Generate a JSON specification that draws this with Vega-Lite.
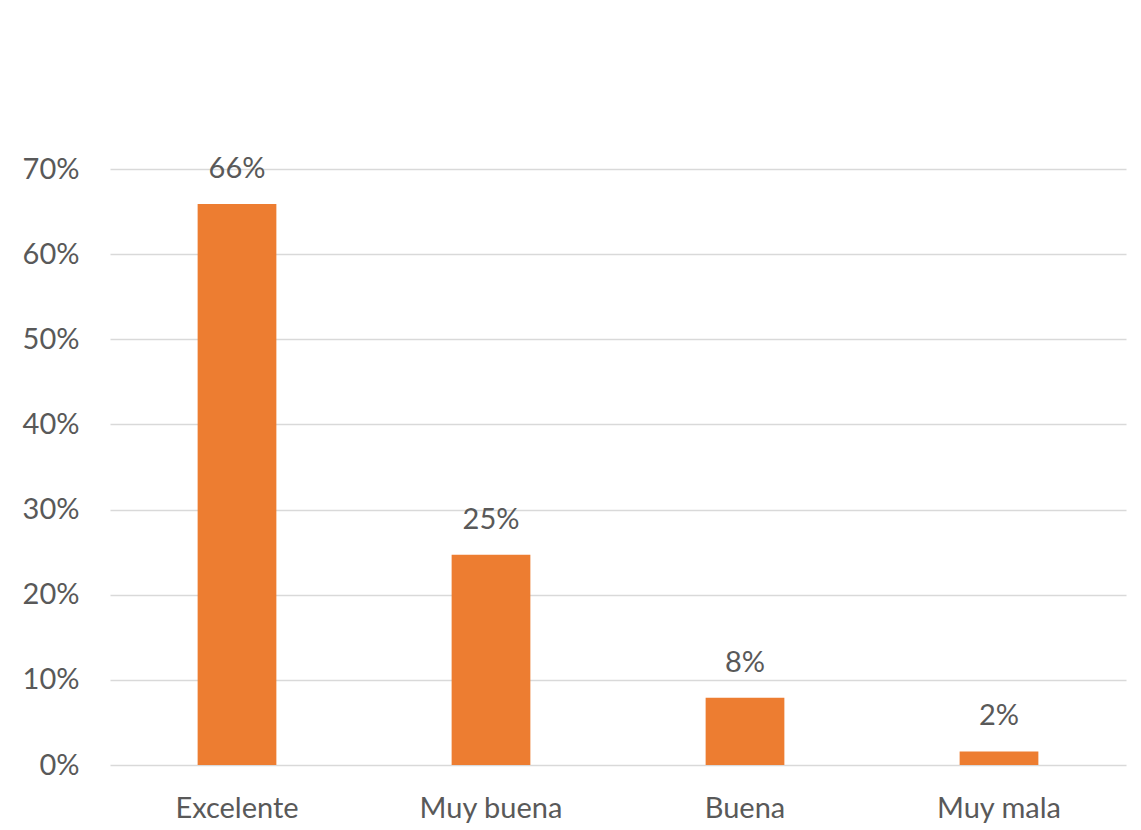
{
  "$schema": "https://vega.github.io/schema/vega-lite/v6.json",
  "autosize": {"type": "none"},
  "width": 1016,
  "height": 596,
  "padding": {"left": 110, "top": 169, "right": 15, "bottom": 65},
  "background": "white",
  "config": {
    "view": {"stroke": null},
    "font": "Lato",
    "axis": {"labelFont": "Lato", "labelColor": "#595959", "labelFontSize": 29, "domain": false, "ticks": false, "title": null}
  },
  "data": {
    "values": [
      {"calidad": "Excelente", "pct": 0.659},
      {"calidad": "Muy buena", "pct": 0.247},
      {"calidad": "Buena", "pct": 0.079},
      {"calidad": "Muy mala", "pct": 0.016}
    ]
  },
  "encoding": {
    "x": {
      "field": "calidad", "type": "nominal", "sort": null,
      "scale": {"paddingInner": 0.69, "paddingOuter": 0.345},
      "axis": {"labelAngle": 0, "labelPadding": 29, "grid": false}
    },
    "y": {
      "field": "pct", "type": "quantitative",
      "scale": {"domain": [0, 0.7], "nice": false},
      "axis": {"format": ".0%", "values": [0, 0.1, 0.2, 0.3, 0.4, 0.5, 0.6, 0.7], "labelPadding": 31, "grid": true, "gridColor": "#d9d9d9", "gridWidth": 1.5}
    }
  },
  "layer": [
    {"mark": {"type": "bar", "color": "#ED7D31"}},
    {
      "mark": {"type": "text", "baseline": "alphabetic", "dy": -26, "fontSize": 29, "color": "#595959", "font": "Lato"},
      "encoding": {"text": {"field": "pct", "type": "quantitative", "format": ".0%"}}
    }
  ]
}
